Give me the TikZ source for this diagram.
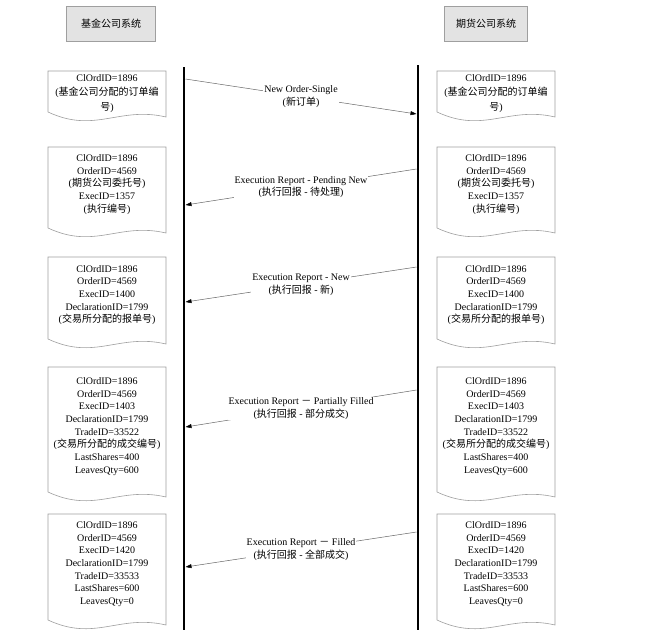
\documentclass[tikz,border=0pt]{standalone}
\usepackage{fontspec}
\setmainfont{Liberation Serif}
\newfontfamily\cjkfont{Noto Sans CJK SC}
\usetikzlibrary{arrows.meta,positioning}

\newcommand{\zh}[1]{{\cjkfont #1}}
% document shape: [text shift], name, left x, top y, bottom y, text
\newcommand{\fixdoc}[6][-3]{%
  \draw[docline] (#3,#4) -- (#3+118,#4) -- (#3+118,#5+5)
    .. controls (#3+71,#5-6) and (#3+47,#5+22) .. (#3,#5) -- cycle;
  \node[doctext] (#2) at (#3+59,{(#4+#5)/2+#1}) {#6};
}

\begin{document}
\begin{tikzpicture}[x=1pt,y=-1pt,font=\fontsize{10}{12.6}\selectfont]
\tikzstyle{sysbox}=[draw=gray!75, fill=gray!22, minimum height=35pt, inner sep=0pt]
\tikzstyle{docline}=[draw=gray!75, fill=white, line width=0.6pt]
\tikzstyle{doctext}=[align=center, inner sep=0pt]
\tikzstyle{life}=[line width=2.6pt]
\tikzstyle{msg}=[draw=gray!80!black, line width=0.5pt, -{Triangle[length=6pt,width=4pt,color=black]}]
\tikzstyle{msgtext}=[fill=white, align=center, inner sep=1pt]

\useasboundingbox (0,0) rectangle (655,635);

\node[sysbox, minimum width=89pt] (fund) at (111,23.5) {\zh{基金公司系统}};
\node[sysbox, minimum width=83pt] (futures) at (486,23.5) {\zh{期货公司系统}};

% lifelines
\coordinate (fundtop) at (184,67);
\coordinate (fundbot) at (184,630);
\coordinate (futtop) at (418,65);
\coordinate (futbot) at (418,630);
\draw[life] (fundtop) -- (fundbot);
\draw[life] (futtop) -- (futbot);

% documents, fund side
\fixdoc[2]{f1}{48}{71}{112}{ClOrdID=1896\\[1.5pt](\zh{基金公司分配的订单编}\\[1.5pt]\zh{号})}
\fixdoc{f2}{48}{147}{228}{ClOrdID=1896\\OrderID=4569\\(\zh{期货公司委托号})\\ExecID=1357\\(\zh{执行编号})}
\fixdoc{f3}{48}{257}{339}{ClOrdID=1896\\OrderID=4569\\ExecID=1400\\DeclarationID=1799\\(\zh{交易所分配的报单号})}
\fixdoc{f4}{48}{367}{492}{ClOrdID=1896\\OrderID=4569\\ExecID=1403\\DeclarationID=1799\\TradeID=33522\\(\zh{交易所分配的成交编号})\\LastShares=400\\LeavesQty=600}
\fixdoc{f5}{48}{514}{620}{ClOrdID=1896\\OrderID=4569\\ExecID=1420\\DeclarationID=1799\\TradeID=33533\\LastShares=600\\LeavesQty=0}

% documents, futures side
\fixdoc[2]{g1}{437}{71}{112}{ClOrdID=1896\\[1.5pt](\zh{基金公司分配的订单编}\\[1.5pt]\zh{号})}
\fixdoc{g2}{437}{147}{228}{ClOrdID=1896\\OrderID=4569\\(\zh{期货公司委托号})\\ExecID=1357\\(\zh{执行编号})}
\fixdoc{g3}{437}{257}{339}{ClOrdID=1896\\OrderID=4569\\ExecID=1400\\DeclarationID=1799\\(\zh{交易所分配的报单号})}
\fixdoc{g4}{437}{367}{492}{ClOrdID=1896\\OrderID=4569\\ExecID=1403\\DeclarationID=1799\\TradeID=33522\\(\zh{交易所分配的成交编号})\\LastShares=400\\LeavesQty=600}
\fixdoc{g5}{437}{514}{620}{ClOrdID=1896\\OrderID=4569\\ExecID=1420\\DeclarationID=1799\\TradeID=33533\\LastShares=600\\LeavesQty=0}

% message ends on the lifelines
\coordinate (l1) at (185.5,79);
\coordinate (r1) at (416.5,114);
\coordinate (r2) at (416.5,169);
\coordinate (l2) at (185.5,205);
\coordinate (r3) at (416.5,267);
\coordinate (l3) at (185.5,302);
\coordinate (r4) at (416.5,390);
\coordinate (l4) at (185.5,427);
\coordinate (r5) at (416.5,532);
\coordinate (l5) at (185.5,567);

\draw[msg] (l1) -- node[msgtext] {New Order-Single\\(\zh{新订单})} (r1);
\draw[msg] (r2) -- node[msgtext] {Execution Report - Pending New\\(\zh{执行回报} - \zh{待处理})} (l2);
\draw[msg] (r3) -- node[msgtext] {Execution Report - New\\(\zh{执行回报} - \zh{新})} (l3);
\draw[msg] (r4) -- node[msgtext] {Execution Report \zh{－} Partially Filled\\(\zh{执行回报} - \zh{部分成交})} (l4);
\draw[msg] (r5) -- node[msgtext] {Execution Report \zh{－} Filled\\(\zh{执行回报} - \zh{全部成交})} (l5);
\end{tikzpicture}
\end{document}
